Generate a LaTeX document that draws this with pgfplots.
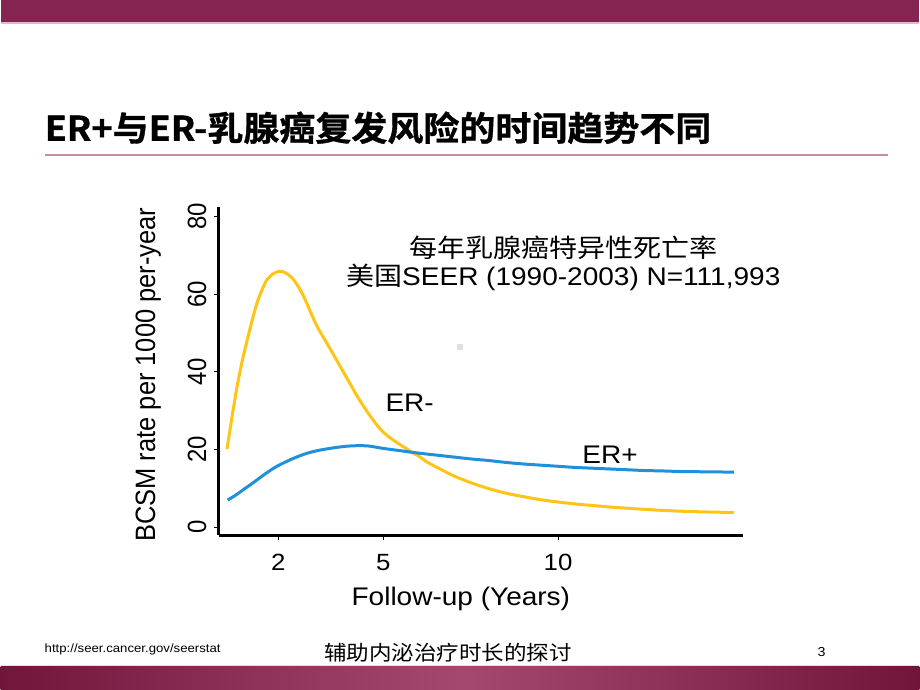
\documentclass[border=0pt]{standalone}
\usepackage{fontspec}
\usepackage{pgfplots}
\pgfplotsset{compat=1.18}
\setmainfont{Liberation Sans}[FakeStretch=1.1]
\newfontfamily\latinrot{Liberation Sans}
\newfontfamily\cjk{Noto Sans CJK SC}[FakeStretch=1.1]
\newfontfamily\cjkb{Noto Sans CJK SC}[FakeStretch=1.06,FakeBold=1,UprightFont=* Bold]
\definecolor{barmaroon}{RGB}{133,36,80}
\definecolor{bardark}{RGB}{112,22,58}
\definecolor{barlight}{RGB}{165,72,112}
\definecolor{sepline}{RGB}{196,140,165}
\definecolor{ernegyellow}{RGB}{255,196,20}
\definecolor{erposblue}{RGB}{30,144,220}

\begin{document}
\begin{tikzpicture}[x=1pt,y=1pt]
% slide background and decoration
\fill[white] (0,0) rectangle (920,690);
\fill[barmaroon] (0,668) rectangle (920,690);
\draw[sepline!60, line width=1.2] (0,667) -- (920,667);
\node[anchor=west, inner sep=0pt] at (44,562)
  {\cjkb\fontsize{34}{40}\selectfont ER+与ER-乳腺癌复发风险的时间趋势不同};
\draw[sepline, line width=2] (44,535) -- (889,535);
\draw[black!12, line width=1] (0,24) -- (920,24);
\shade[left color=bardark, right color=bardark, middle color=barlight] (0,0) rectangle (920,23);
\node[anchor=west, inner sep=0pt] at (44,40) {\fontsize{12}{14}\selectfont http://seer.cancer.gov/seerstat};
\node[inner sep=0pt] at (448,36) {\cjk\fontsize{20.5}{24}\selectfont 辅助内泌治疗时长的探讨};
\node[inner sep=0pt] at (822,37) {\fontsize{13}{15}\selectfont 3};
\fill[black!12] (457,340) rectangle (463,346);

\begin{axis}[
    at={(218.3pt,154pt)}, anchor=south west,
    scale only axis, width=525pt, height=329pt,
    xmin=0.29, xmax=15.29, ymin=-2.06, ymax=82.5,
    axis lines=left,
    axis line style={-, line width=3pt, black},
    xtick={2,5,10}, ytick={0,20,40,60,80},
    tick align=outside,
    major tick length=5pt,
    tick style={black, line width=1pt},
    /pgf/number format/assume math mode=true,
    xticklabel style={font=\fontsize{23.5}{26}\selectfont, inner sep=0pt, anchor=north},
    xticklabel shift=14pt,
    yticklabel style={font=\latinrot\fontsize{24}{27}\selectfont, inner sep=0pt, anchor=south, rotate=90, yscale=1.1},
    yticklabel shift=7pt,
    xlabel={Follow-up (Years)},
    ylabel={BCSM rate per 1000 per-year},
    xlabel style={font=\fontsize{25.5}{30}\selectfont, at={(axis description cs:0.462,-0.195)}, anchor=center},
    ylabel style={font=\latinrot\fontsize{25.5}{30}\selectfont, at={(axis description cs:-0.134,0.489)}, anchor=center, yscale=1.1},
    clip=false,
]
% ER- (yellow)
\addplot[ernegyellow, line width=3pt, smooth] coordinates {
  (0.53,20.1)(0.68,28.8)(0.82,36.3)(0.96,42.6)(1.11,48.3)(1.25,53.3)(1.39,57.8)
  (1.54,61.3)(1.68,63.8)(1.86,65.3)(2.04,65.9)(2.2,65.5)(2.39,64.2)(2.55,62.2)
  (2.72,59.5)(2.9,55.8)(3.1,51.8)(3.3,48.7)(3.49,45.8)(3.68,42.8)(3.87,39.8)
  (4.06,36.8)(4.25,33.8)(4.44,31.1)(4.63,28.6)(4.82,26.3)(5.01,24.4)(5.2,23.0)
  (5.39,21.8)(5.6,20.6)(5.8,19.4)(6.0,18.4)(6.25,16.8)(6.5,15.6)(7.0,13.3)
  (7.5,11.5)(8.0,10.0)(8.5,8.8)(9.0,7.9)(9.5,7.1)(10.0,6.5)(10.5,6.0)(11.0,5.6)
  (11.5,5.2)(12.0,4.9)(12.5,4.6)(13.0,4.35)(13.5,4.15)(14.0,4.0)(14.5,3.9)(15.03,3.8)
};
% ER+ (blue)
\addplot[erposblue, line width=3pt, smooth] coordinates {
  (0.55,7.0)(0.8,8.4)(1.0,9.7)(1.3,11.6)(1.6,13.6)(1.9,15.4)(2.2,16.8)(2.5,18.0)
  (2.8,19.0)(3.1,19.7)(3.4,20.2)(3.7,20.6)(4.0,20.9)(4.3,21.0)(4.6,20.9)(5.0,20.3)
  (5.5,19.7)(6.0,19.1)(6.5,18.6)(7.0,18.1)(7.5,17.6)(8.0,17.2)(8.5,16.7)(9.0,16.3)
  (9.5,16.0)(10.0,15.7)(10.5,15.4)(11.0,15.2)(11.5,15.0)(12.0,14.8)(12.5,14.6)
  (13.0,14.5)(13.5,14.35)(14.0,14.3)(14.5,14.25)(15.03,14.2)
};
\node[anchor=center, inner sep=0pt] at (axis cs:10.15,72)
  {\cjk\fontsize{25.5}{30}\selectfont 每年乳腺癌特异性死亡率};
\node[anchor=center, inner sep=0pt] at (axis cs:10.15,64.3)
  {\fontsize{25.5}{30}\selectfont{\cjk 美国}SEER (1990-2003) N=111,993};
\node[anchor=west, inner sep=0pt] at (axis cs:5.06,32.1) {\fontsize{25.5}{30}\selectfont ER-};
\node[anchor=west, inner sep=0pt] at (axis cs:10.69,18.8) {\fontsize{25.5}{30}\selectfont ER+};
\end{axis}
\end{tikzpicture}
\end{document}
